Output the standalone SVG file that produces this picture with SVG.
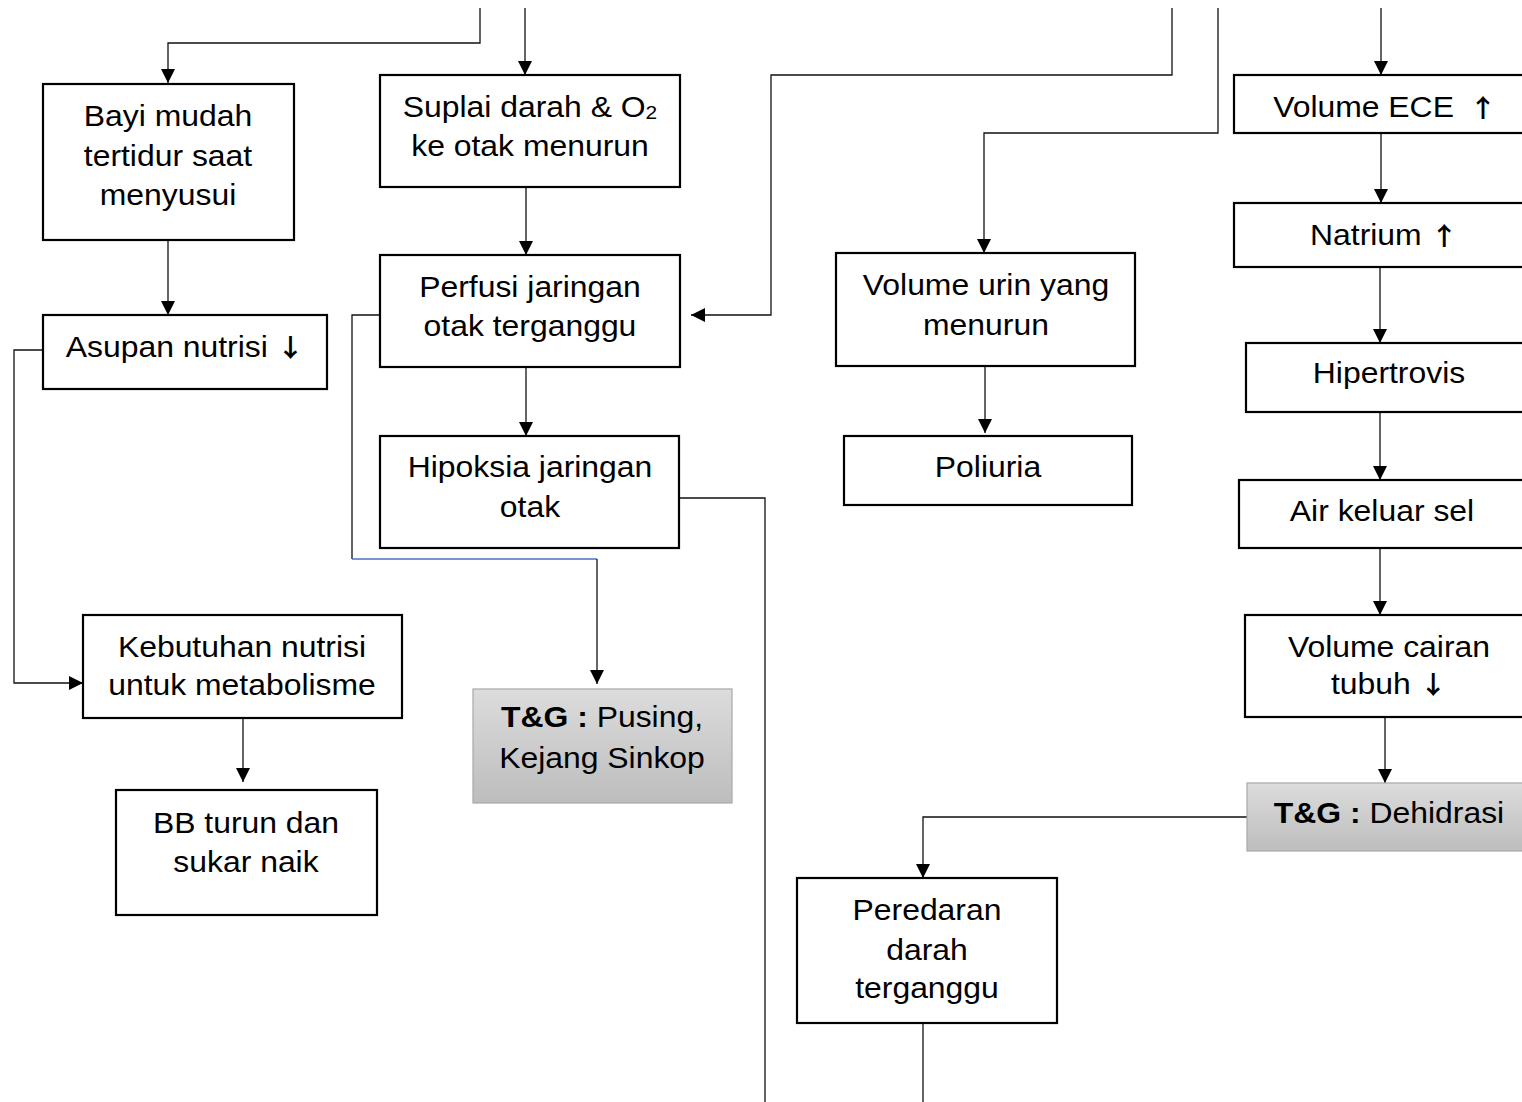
<svg xmlns="http://www.w3.org/2000/svg" width="1522" height="1102" viewBox="0 0 1522 1102">
  <defs>
    <marker id="arrow" markerUnits="userSpaceOnUse" markerWidth="14" markerHeight="14" refX="14" refY="7" orient="auto">
      <path d="M0,0 L14,7 L0,14 z" fill="#000"/>
    </marker>
    <linearGradient id="tg" x1="0" y1="0" x2="0" y2="1">
      <stop offset="0" stop-color="#dcdcdc"/>
      <stop offset="1" stop-color="#bdbdbd"/>
    </linearGradient>
    <style>
      .box { fill: #fff; stroke: #000; stroke-width: 2.2; }
      .tg { fill: url(#tg); stroke: #a8a8a8; stroke-width: 1.2; }
      .lbl { font-family: "Liberation Sans", Arial, sans-serif; font-size: 29px; fill: #000; text-anchor: middle; }
      .b { font-weight: bold; }
      .sub { font-size: 19px; }
      .sym { font-family: "Noto Sans CJK SC", "DejaVu Sans", sans-serif; font-size: 25px; font-weight: bold; }
      .conn path { fill: none; stroke: #111; stroke-width: 1.3; }
      .conn path.arr { marker-end: url(#arrow); }
    </style>
  </defs>
  <rect width="1522" height="1102" fill="#fff"/>

  <!-- connectors -->
  <g class="conn">
    <path class="arr" d="M480,8 V43 H168 V83"/>
    <path class="arr" d="M525,8 V75"/>
    <path class="arr" d="M1172,8 V75 H771 V315 H691"/>
    <path class="arr" d="M1218,8 V133 H984 V253"/>
    <path class="arr" d="M1381,8 V75"/>
    <path class="arr" d="M168,241 V315"/>
    <path class="arr" d="M43,350 H14 V683 H83"/>
    <path class="arr" d="M526,187 V255"/>
    <path class="arr" d="M526,367 V436"/>
    <path d="M380,315 H352 V559"/>
    <path d="M352,559 H597" style="stroke:#4a72c0"/>
    <path class="arr" d="M597,559 V684"/>
    <path d="M680,498 H765 V1102"/>
    <path class="arr" d="M243,718 V782"/>
    <path class="arr" d="M985,366 V433"/>
    <path class="arr" d="M1381,133 V203"/>
    <path class="arr" d="M1380,267 V343"/>
    <path class="arr" d="M1380,412 V480"/>
    <path class="arr" d="M1380,548 V615"/>
    <path class="arr" d="M1385,717 V783"/>
    <path class="arr" d="M1247,817 H923 V878"/>
    <path d="M923,1023 V1102"/>
  </g>

  <!-- labels are widened 1.1x about their centre line -->

  <!-- left column -->
  <g id="bayi-mudah">
    <rect class="box" x="43" y="84" width="251" height="156"/>
    <g transform="matrix(1.1 0 0 1 -16.8 0)">
      <text class="lbl" x="168" y="126">Bayi mudah</text>
      <text class="lbl" x="168" y="166">tertidur saat</text>
      <text class="lbl" x="168" y="205">menyusui</text>
    </g>
  </g>
  <g id="asupan-nutrisi">
    <rect class="box" x="43" y="315" width="284" height="74"/>
    <g transform="matrix(1.1 0 0 1 -18.5 0)">
      <text class="lbl" x="185" y="357">Asupan nutrisi <tspan class="sym">↓</tspan></text>
    </g>
  </g>
  <g id="kebutuhan-nutrisi">
    <rect class="box" x="83" y="615" width="319" height="103"/>
    <g transform="matrix(1.1 0 0 1 -24.2 0)">
      <text class="lbl" x="242" y="657">Kebutuhan nutrisi</text>
      <text class="lbl" x="242" y="695">untuk metabolisme</text>
    </g>
  </g>
  <g id="bb-turun">
    <rect class="box" x="116" y="790" width="261" height="125"/>
    <g transform="matrix(1.1 0 0 1 -24.6 0)">
      <text class="lbl" x="246" y="833">BB turun dan</text>
      <text class="lbl" x="246" y="872">sukar naik</text>
    </g>
  </g>

  <!-- brain column -->
  <g id="suplai-darah">
    <rect class="box" x="380" y="75" width="300" height="112"/>
    <g transform="matrix(1.1 0 0 1 -53 0)">
      <text class="lbl" x="530" y="117">Suplai darah &amp; O<tspan class="sub" dy="2">2</tspan></text>
      <text class="lbl" x="530" y="156">ke otak menurun</text>
    </g>
  </g>
  <g id="perfusi-jaringan">
    <rect class="box" x="380" y="255" width="300" height="112"/>
    <g transform="matrix(1.1 0 0 1 -53 0)">
      <text class="lbl" x="530" y="297">Perfusi jaringan</text>
      <text class="lbl" x="530" y="336">otak terganggu</text>
    </g>
  </g>
  <g id="hipoksia">
    <rect class="box" x="380" y="436" width="299" height="112"/>
    <g transform="matrix(1.1 0 0 1 -53 0)">
      <text class="lbl" x="530" y="477">Hipoksia jaringan</text>
      <text class="lbl" x="530" y="517">otak</text>
    </g>
  </g>
  <g id="tg-pusing">
    <rect class="tg" x="473" y="689" width="259" height="114"/>
    <g transform="matrix(1.1 0 0 1 -60.2 0)">
      <text class="lbl" x="602" y="727"><tspan class="b">T&amp;G :</tspan> Pusing,</text>
      <text class="lbl" x="602" y="768">Kejang Sinkop</text>
    </g>
  </g>

  <!-- urine column -->
  <g id="volume-urin">
    <rect class="box" x="836" y="253" width="299" height="113"/>
    <g transform="matrix(1.1 0 0 1 -98.6 0)">
      <text class="lbl" x="986" y="295">Volume urin yang</text>
      <text class="lbl" x="986" y="335">menurun</text>
    </g>
  </g>
  <g id="poliuria">
    <rect class="box" x="844" y="436" width="288" height="69"/>
    <g transform="matrix(1.1 0 0 1 -98.8 0)">
      <text class="lbl" x="988" y="477">Poliuria</text>
    </g>
  </g>
  <g id="peredaran-darah">
    <rect class="box" x="797" y="878" width="260" height="145"/>
    <g transform="matrix(1.1 0 0 1 -92.7 0)">
      <text class="lbl" x="927" y="920">Peredaran</text>
      <text class="lbl" x="927" y="960">darah</text>
      <text class="lbl" x="927" y="998">terganggu</text>
    </g>
  </g>

  <!-- fluid column -->
  <g id="volume-ece">
    <rect class="box" x="1234" y="75" width="300" height="58"/>
    <g transform="matrix(1.1 0 0 1 -138.5 0)">
      <text class="lbl" x="1385" y="117">Volume ECE <tspan class="sym" dx="6">↑</tspan></text>
    </g>
  </g>
  <g id="natrium">
    <rect class="box" x="1234" y="203" width="300" height="64"/>
    <g transform="matrix(1.1 0 0 1 -138.4 0)">
      <text class="lbl" x="1384" y="245">Natrium <tspan class="sym">↑</tspan></text>
    </g>
  </g>
  <g id="hipertrovis">
    <rect class="box" x="1246" y="343" width="290" height="69"/>
    <g transform="matrix(1.1 0 0 1 -138.9 0)">
      <text class="lbl" x="1389" y="383">Hipertrovis</text>
    </g>
  </g>
  <g id="air-keluar-sel">
    <rect class="box" x="1239" y="480" width="295" height="68"/>
    <g transform="matrix(1.1 0 0 1 -138.2 0)">
      <text class="lbl" x="1382" y="521">Air keluar sel</text>
    </g>
  </g>
  <g id="volume-cairan">
    <rect class="box" x="1245" y="615" width="290" height="102"/>
    <g transform="matrix(1.1 0 0 1 -138.9 0)">
      <text class="lbl" x="1389" y="657">Volume cairan</text>
      <text class="lbl" x="1389" y="694">tubuh <tspan class="sym">↓</tspan></text>
    </g>
  </g>
  <g id="tg-dehidrasi">
    <rect class="tg" x="1247" y="783" width="290" height="68"/>
    <g transform="matrix(1.1 0 0 1 -138.9 0)">
      <text class="lbl" x="1389" y="823"><tspan class="b">T&amp;G :</tspan> Dehidrasi</text>
    </g>
  </g>
</svg>
